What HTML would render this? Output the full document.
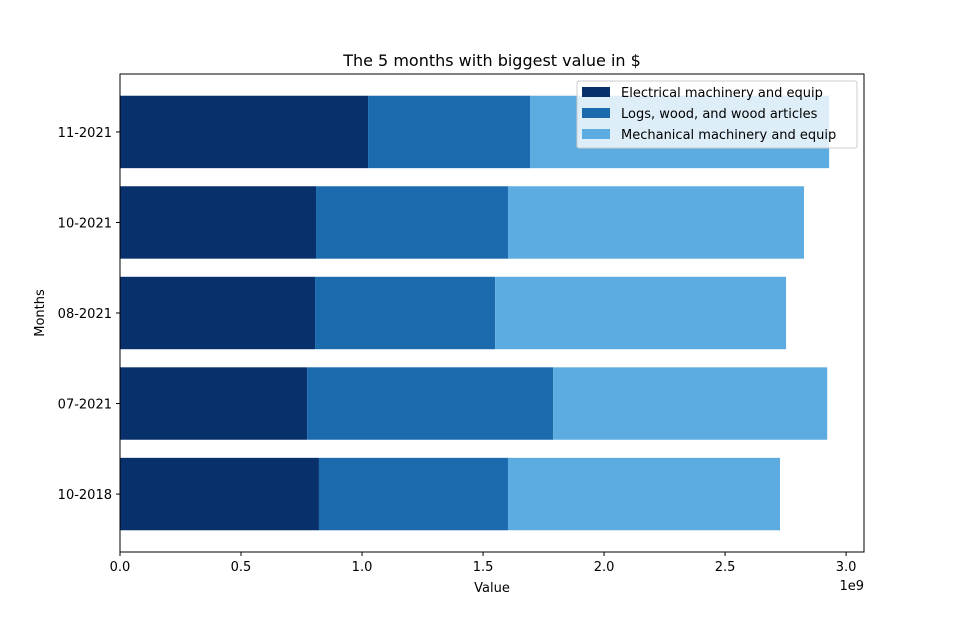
<!DOCTYPE html>
<html><head><meta charset="utf-8"><style>
body{margin:0;background:#fff;font-family:"DejaVu Sans",sans-serif;}
svg text{font-family:"DejaVu Sans",sans-serif;}
</style></head><body>
<svg id="chart" width="960" height="620" xmlns="http://www.w3.org/2000/svg">
<rect width="960" height="620" fill="#fff"/>
<text x="492" y="66" font-size="16" text-anchor="middle">The 5 months with biggest value in $</text>
<g id="bars"></g>
<g id="axes"></g>
<text x="492" y="592" font-size="13" text-anchor="middle">Value</text>
<text x="44" y="313" font-size="13" text-anchor="middle" transform="rotate(-90 44 313)">Months</text>
<text x="864" y="590" font-size="13" text-anchor="end">1e9</text>
<g id="legend"></g>
</svg>
<script>
const categories = ["10-2018","07-2021","08-2021","10-2021","11-2021"];
const seriesNames = ["Electrical machinery and equip","Logs, wood, and wood articles","Mechanical machinery and equip"];
const electrical = [0.822,0.773,0.806,0.810,1.025];
const logs = [0.781,1.017,0.744,0.793,0.669];
const mechanical = [1.124,1.132,1.202,1.223,1.236];
const xTicks = [0,0.5,1.0,1.5,2.0,2.5,3.0];
const xTickLabels = ["0.0","0.5","1.0","1.5","2.0","2.5","3.0"];
const colors = ["#08306b","#1a6aad","#5dace1"];
const NS="http://www.w3.org/2000/svg";
const L=120,R=864,T=74,B=552,xMax=3.074,yMin=-0.64,yMax=4.64;
const xs=v=>L+v/xMax*(R-L);
const ys=v=>B-(v-yMin)/(yMax-yMin)*(B-T);
function mk(tag,attrs,parent){const e=document.createElementNS(NS,tag);for(const k in attrs)e.setAttribute(k,attrs[k]);parent.appendChild(e);return e;}
const bars=document.getElementById('bars');
const series=[electrical,logs,mechanical];
categories.forEach((c,i)=>{
  let acc=0;
  series.forEach((s,j)=>{
    const r=mk('rect',{x:xs(acc),y:ys(i+0.4),width:xs(acc+s[i])-xs(acc),height:ys(i-0.4)-ys(i+0.4),fill:colors[j]},bars);
    
    
    acc+=s[i];
  });
});
const ax=document.getElementById('axes');
const frame=mk('rect',{x:L,y:T,width:R-L,height:B-T,fill:'none',stroke:'#000','stroke-width':1},ax);


xTicks.forEach((t,i)=>{
  mk('line',{x1:xs(t),x2:xs(t),y1:B,y2:B+4,stroke:'#000'},ax);
  const tx=mk('text',{x:xs(t),y:B+19,'font-size':13,'text-anchor':'middle'},ax);
  tx.textContent=xTickLabels[i];
  
  
});
categories.forEach((c,i)=>{
  mk('line',{x1:L-4,x2:L,y1:ys(i),y2:ys(i),stroke:'#000'},ax);
  const tx=mk('text',{x:L-8,y:ys(i)+5,'font-size':13,'text-anchor':'end'},ax);
  tx.textContent=c;
  
  
});
const lg=document.getElementById('legend');
mk('rect',{x:577,y:81,width:280,height:67,fill:'#fff','fill-opacity':0.8,stroke:'#ccc',rx:2},lg);
seriesNames.forEach((n,j)=>{
  const y=86+j*21;
  const sw=mk('rect',{x:582,y:y+1,width:28,height:10,fill:colors[j]},lg);
  
  
  const t=mk('text',{x:621,y:y+11,'font-size':13},lg);
  t.textContent=n;
  
  
});
</script>
</body></html>
